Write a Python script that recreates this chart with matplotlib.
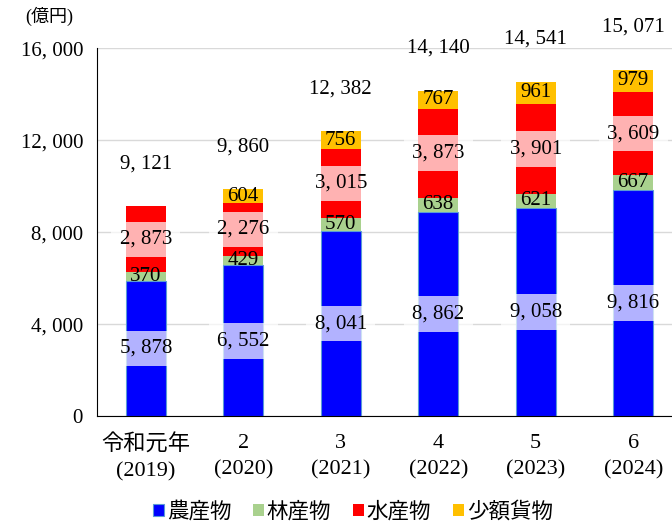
import matplotlib.pyplot as plt
import numpy as np

# データ（億円）
years = ['令和元年\n(2019)', '2\n(2020)', '3\n(2021)', '4\n(2022)', '5\n(2023)', '6\n(2024)']
agri = [5878, 6552, 8041, 8862, 9058, 9816]
forest = [370, 429, 570, 638, 621, 667]
fish = [2873, 2276, 3015, 3873, 3901, 3609]
small = [0, 604, 756, 767, 961, 979]
totals = [9121, 9860, 12382, 14140, 14541, 15071]

series_names = ['農産物', '林産物', '水産物', '少額貨物']
colors = ['#0000FF', '#A9D18E', '#FF0000', '#FFC000']
boxed = [True, False, True, False]

fonts = ['Liberation Serif', 'Noto Sans CJK JP', 'DejaVu Sans']
plt.rcParams['font.family'] = fonts


def fmt(v):
    return f'{v:,}'.replace(',', ', ')


fig = plt.figure(figsize=(6.72, 5.24), dpi=100)
ax = fig.add_axes([0.1443, 0.206, 0.8705, 0.702])

x = np.arange(len(years))
width = 0.41
bottom = np.zeros(len(years))
for name, vals, c, bx in zip(series_names, [agri, forest, fish, small], colors, boxed):
    vals = np.array(vals, dtype=float)
    ec = '#5B9BD5' if name == '農産物' else c
    ax.bar(x, vals, width, bottom=bottom, color=c, edgecolor=ec,
           linewidth=0.8 if name == '農産物' else 0, label=name, zorder=2)
    for xi, b, v in zip(x, bottom, vals):
        if v > 0:
            box = dict(facecolor='white', alpha=0.7, edgecolor='none', pad=6) if bx else None
            ax.text(xi, b + v / 2, fmt(int(v)), ha='center', va='center',
                    fontsize=15, zorder=3, bbox=box)
    bottom += vals

for xi, t in zip(x, totals):
    ax.text(xi, t + 1850, fmt(t), ha='center', va='center', fontsize=15)

ax.set_xlim(-0.5, 5.5)
ax.set_ylim(0, 16000)
ax.set_yticks(range(0, 16001, 4000))
ax.set_yticklabels([fmt(v) for v in range(0, 16001, 4000)], fontsize=15)
ax.set_xticks(x)
ax.set_xticklabels(years, fontsize=16, linespacing=1.5)
ax.tick_params(axis='y', length=0, pad=10)
ax.tick_params(axis='x', length=0, pad=13)
ax.grid(axis='y', color='#D9D9D9', linewidth=1, zorder=0)
ax.set_axisbelow(True)
for s in ['top', 'right']:
    ax.spines[s].set_visible(False)
ax.spines['left'].set_color('black')
ax.spines['bottom'].set_color('black')

fig.text(0.037, 0.968, '(億円)', fontsize=13, va='center')

fig.legend(loc='center', bbox_to_anchor=(0.525, 0.022), ncol=4,
           frameon=False, fontsize=15.5, handlelength=0.5, handleheight=0.5,
           handletextpad=0.15, columnspacing=1.0)

fig.savefig('out.png', dpi=100)
